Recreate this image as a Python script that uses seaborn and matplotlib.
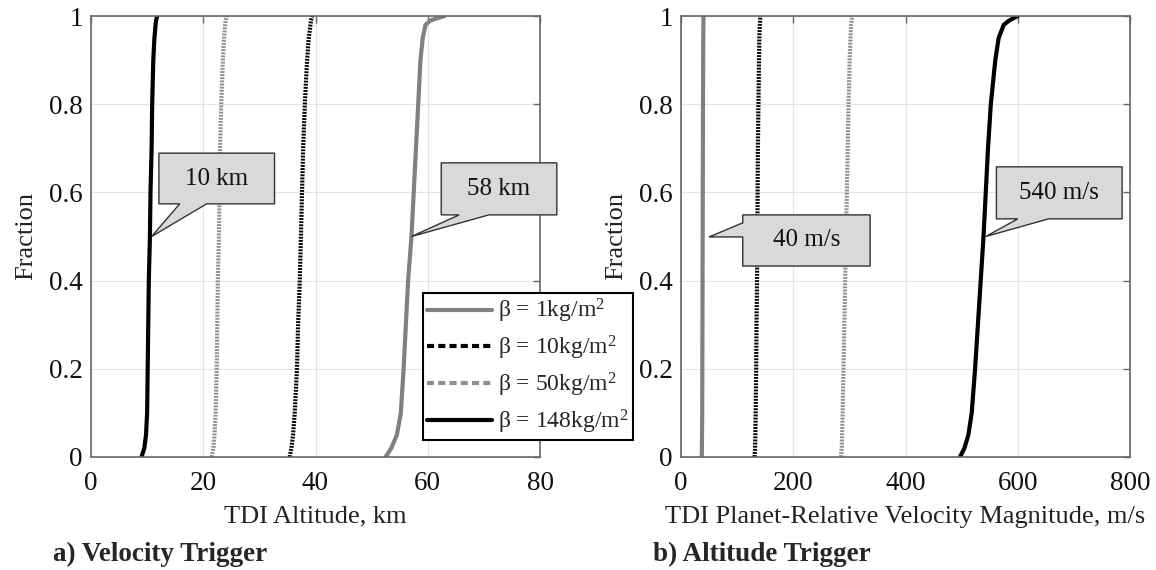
import numpy as np
import pandas as pd
import seaborn as sns
import matplotlib
matplotlib.use("Agg")
import matplotlib.pyplot as plt
from matplotlib.patches import Polygon
from matplotlib.lines import Line2D

# ---------------- data ----------------
FRACTION = [0, 0.02, 0.05, 0.1, 0.2, 0.3, 0.4, 0.5, 0.6, 0.7, 0.8, 0.9, 0.95, 0.98, 0.99, 1.0]

# (a) Velocity trigger: TDI altitude, km
ALT_B1   = [52.5, 53.5, 54.5, 55.2, 55.7, 56.1, 56.5, 57.1, 57.5, 57.9, 58.3, 58.7, 59.1, 59.6, 60.5, 63.0]
ALT_B10  = [35.4, 35.7, 36.0, 36.3, 36.7, 36.9, 37.2, 37.4, 37.6, 37.8, 38.1, 38.5, 38.8, 39.1, 39.2, 39.4]
ALT_B50  = [21.5, 21.8, 22.0, 22.2, 22.4, 22.5, 22.6, 22.8, 22.9, 23.0, 23.2, 23.5, 23.7, 23.9, 24.0, 24.2]
ALT_B148 = [9.0, 9.5, 9.8, 10.0, 10.1, 10.2, 10.3, 10.5, 10.6, 10.8, 10.9, 11.1, 11.3, 11.5, 11.6, 11.8]

# (b) Altitude trigger: TDI planet-relative velocity magnitude, m/s
VEL_B1   = [37, 37.2, 37.5, 37.8, 38.0, 38.2, 38.4, 38.6, 38.8, 39.0, 39.2, 39.5, 39.7, 39.9, 40.0, 40.2]
VEL_B10  = [131, 132, 132.5, 133, 134, 134.5, 135.5, 136, 136.5, 137, 138, 139, 139.5, 140.5, 141, 141.5]
VEL_B50  = [285, 286.5, 287, 288, 289.5, 291, 292.5, 294, 295.5, 297, 298.5, 300.5, 302, 303, 304, 305]
VEL_B148 = [497, 505, 512, 518, 524, 529, 534, 539, 543, 547, 552, 560, 566, 575, 585, 600]

LEGEND_LABELS = [r"β = 1kg/m$^2$", r"β = 10kg/m$^2$", r"β = 50kg/m$^2$", r"β = 148kg/m$^2$"]
X_TICKS_A = [0, 20, 40, 60, 80]
X_TICKS_B = [0, 200, 400, 600, 800]
Y_TICKS = [0, 0.2, 0.4, 0.6, 0.8, 1.0]
Y_TICK_LABELS = ["0", "0.2", "0.4", "0.6", "0.8", "1"]

# ---------------- style ----------------
sns.set_theme(style="white")
plt.rcParams["font.family"] = ["Liberation Serif", "DejaVu Serif"]
plt.rcParams["mathtext.fontset"] = "custom"
plt.rcParams["mathtext.rm"] = "Liberation Serif"
plt.rcParams["mathtext.it"] = "Liberation Serif:italic"

GRAY = "#808080"
LGRAY = "#8f8f8f"
SPINE = "#666666"
DOT = (0, (0.45, 0.3))

styles = [
    dict(color=GRAY, linestyle="-"),
    dict(color="black", linestyle=DOT),
    dict(color=LGRAY, linestyle=DOT),
    dict(color="black", linestyle="-"),
]

W, H = 1156, 570
fig = plt.figure(figsize=(W / 100, H / 100), dpi=100)

def axrect(x0, x1, y0, y1):
    return [x0 / W, 1 - y1 / H, (x1 - x0) / W, (y1 - y0) / H]

axA = fig.add_axes(axrect(91, 540, 16, 457))
axB = fig.add_axes(axrect(681, 1130, 16, 457))

def draw(ax, series, xlim, xticks, xlabel):
    for xs, st in zip(series, styles):
        df = pd.DataFrame({"x": xs, "f": FRACTION})
        sns.lineplot(data=df, x="x", y="f", ax=ax, sort=False, estimator=None,
                     lw=3, legend=False, **st)
    ax.set_xlim(*xlim)
    ax.set_ylim(0, 1)
    ax.set_xticks(xticks)
    ax.set_xticklabels([str(t) for t in xticks])
    ax.set_yticks(Y_TICKS)
    ax.set_yticklabels(Y_TICK_LABELS)
    ax.grid(True, color="#e4e4e4", lw=0.8)
    ax.set_axisbelow(True)
    for s in ax.spines.values():
        s.set_color(SPINE)
        s.set_linewidth(1.2)
        s.set_visible(True)
    ax.tick_params(direction="in", length=5, width=1, color=SPINE,
                   top=True, right=True, labelsize=19.5, labelcolor="#111111")
    ax.tick_params(axis="x", pad=10)
    ax.tick_params(axis="y", pad=6)
    ax.set_xlabel(xlabel, fontsize=19, color="#222222")
    ax.set_ylabel("Fraction", fontsize=19, color="#222222")
    ax.xaxis.set_label_coords(0.5, -0.110)
    ax.yaxis.set_label_coords(-0.119, 0.5)

draw(axA, [ALT_B1, ALT_B10, ALT_B50, ALT_B148], (0, 80), X_TICKS_A, "TDI Altitude, km")
draw(axB, [VEL_B1, VEL_B10, VEL_B50, VEL_B148], (0, 800), X_TICKS_B,
     "TDI Planet-Relative Velocity Magnitude, m/s")

# ---------------- callouts ----------------
def callout(ax, verts, center, text):
    p = Polygon(verts, closed=True, facecolor="#d9d9d9", edgecolor="#333333",
                lw=1, clip_on=False, zorder=5)
    ax.add_patch(p)
    ax.text(center[0], center[1], text, ha="center", va="center", fontsize=18,
            color="#111111", zorder=6, clip_on=False)

# 10 km (wedge from bottom edge)
x0, x1, y0, y1 = 12.1, 32.7, 0.574, 0.689
callout(axA, [(x0, y1), (x1, y1), (x1, y0), (20.6, y0), (10.8, 0.5), (15.8, y0), (x0, y0)],
        ((x0 + x1) / 2, (y0 + y1) / 2), "10 km")
# 58 km
x0, x1, y0, y1 = 62.4, 83.0, 0.549, 0.667
callout(axA, [(x0, y1), (x1, y1), (x1, y0), (70.9, y0), (57.1, 0.5), (65.6, y0), (x0, y0)],
        ((x0 + x1) / 2, (y0 + y1) / 2), "58 km")
# 40 m/s (wedge from left edge)
x0, x1, y0, y1 = 110, 337, 0.433, 0.549
callout(axB, [(x0, y1), (x1, y1), (x1, y0), (x0, y0), (x0, 0.499), (50, 0.499), (x0, 0.531)],
        ((x0 + x1) / 2, (y0 + y1) / 2), "40 m/s")
# 540 m/s
x0, x1, y0, y1 = 562, 786, 0.540, 0.658
callout(axB, [(x0, y1), (x1, y1), (x1, y0), (655, y0), (543, 0.5), (600, y0), (x0, y0)],
        ((x0 + x1) / 2, (y0 + y1) / 2), "540 m/s")

# ---------------- legend ----------------
leg_dash = (0, (1.7, 1.0))
handles = [
    Line2D([], [], color=GRAY, lw=3, linestyle="-"),
    Line2D([], [], color="black", lw=3, linestyle=leg_dash),
    Line2D([], [], color=LGRAY, lw=3, linestyle=leg_dash),
    Line2D([], [], color="black", lw=3, linestyle="-"),
]
leg = axA.legend(handles, LEGEND_LABELS, loc="upper left",
                 bbox_to_anchor=(423 / W, 1 - 293 / H), bbox_transform=fig.transFigure,
                 fontsize=17, handlelength=2.75, handletextpad=0.25, borderpad=0.18,
                 labelspacing=0.36, borderaxespad=0, fancybox=False, framealpha=1,
                 edgecolor="black")
leg.get_frame().set_linewidth(1.5)
leg.set_zorder(10)

# ---------------- captions ----------------
fig.text(53 / W, 1 - 561 / H, "a) Velocity Trigger", fontsize=19.5, fontweight="bold",
         va="baseline", ha="left")
fig.text(653 / W, 1 - 561 / H, "b) Altitude Trigger", fontsize=19.5, fontweight="bold",
         va="baseline", ha="left")

fig.savefig("out.png", dpi=100)
